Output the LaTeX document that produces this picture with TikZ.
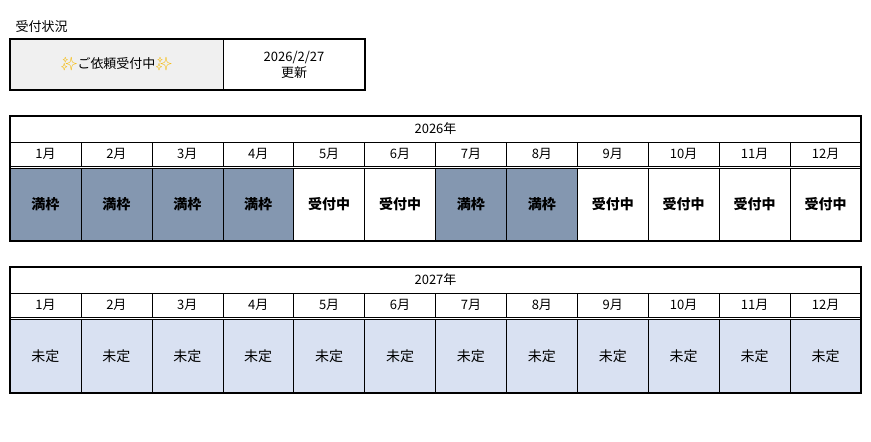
\documentclass[tikz,border=0pt]{standalone}
\usepackage{fontspec}
\setmainfont{Noto Sans CJK JP}
\newfontfamily\emo{Noto Emoji}
\begin{document}
\begin{tikzpicture}[x=1pt,y=-1pt,
  full/.style={fill=fullc},
  open/.style={fill=white},
  tbd/.style={fill=tbdc},
  txt/.style={font=\fontsize{13}{13}\selectfont},
  btxt/.style={font=\fontsize{14}{14}\selectfont\bfseries}]
\definecolor{fullc}{HTML}{8497B0}
\definecolor{tbdc}{HTML}{D9E1F2}
\definecolor{hdrc}{HTML}{F0F0F0}
\definecolor{spark}{HTML}{F5B800}
\useasboundingbox (0,0) rectangle (871,442);
\node[anchor=west,txt] (title) at (12,27) {受付状況};
\fill[hdrc] (10,39) rectangle (223,90);
\draw[line width=1pt] (223,39) -- (223,90);
\draw[line width=2pt] (10,39) rectangle (365,90);
\node[txt] (status) at (116.5,64.5) {{\emo\color{spark}✨}ご依頼受付中{\emo\color{spark}✨}};
\node[txt,align=center,font=\fontsize{13}{16}\selectfont] (date) at (294,64.5) {2026/2/27\\更新};
\def\cw{70.9167}
% table 1
\foreach \i/\s/\t in {1/full/満枠,2/full/満枠,3/full/満枠,4/full/満枠,5/open/受付中,6/open/受付中,7/full/満枠,8/full/満枠,9/open/受付中,10/open/受付中,11/open/受付中,12/open/受付中}{
  \pgfmathsetmacro\xa{10+(\i-1)*\cw}\pgfmathsetmacro\xb{10+\i*\cw}
  \filldraw[\s,draw=black] (\xa,168) rectangle (\xb,241);
  \node[btxt] (a\i) at ({(\xa+\xb)/2},204.5) {\t};
  \draw (\xa,142) rectangle (\xb,166);
  \node[txt] (ma\i) at ({(\xa+\xb)/2},154) {\i 月};
}
\draw (10,166) -- (861,166);
\node[txt] (y1) at (435.5,129) {2026年};
\draw[line width=2pt] (10,116) rectangle (861,241);
% table 2
\foreach \i in {1,...,12}{
  \pgfmathsetmacro\xa{10+(\i-1)*\cw}\pgfmathsetmacro\xb{10+\i*\cw}
  \filldraw[tbd,draw=black] (\xa,319) rectangle (\xb,393);
  \node[btxt,font=\fontsize{14}{14}\selectfont] (b\i) at ({(\xa+\xb)/2},356) {未定};
  \draw (\xa,293) rectangle (\xb,317);
  \node[txt] (mb\i) at ({(\xa+\xb)/2},305) {\i 月};
}
\draw (10,317) -- (861,317);
\node[txt] (y2) at (435.5,280) {2027年};
\draw[line width=2pt] (10,267) rectangle (861,393);
\end{tikzpicture}
\end{document}
